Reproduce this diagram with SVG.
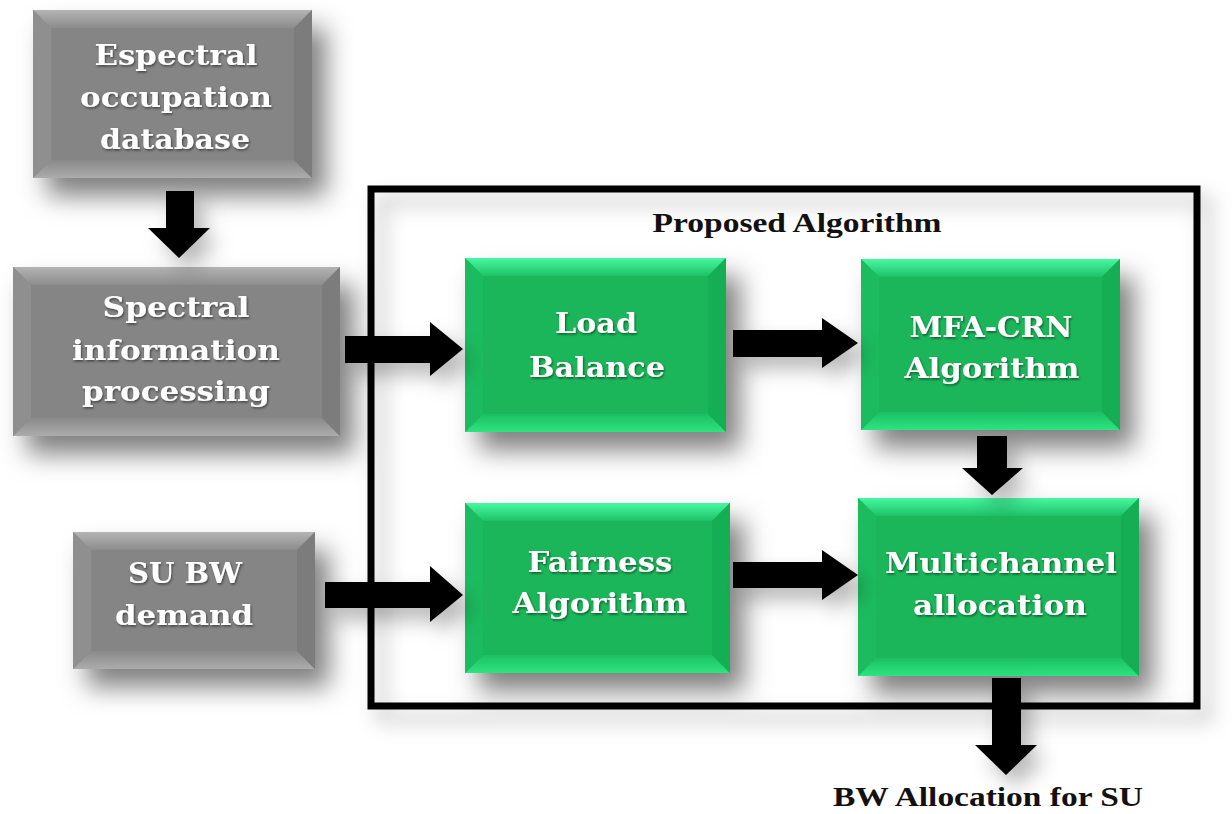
<svg xmlns="http://www.w3.org/2000/svg" width="1232" height="814" viewBox="0 0 1232 814">
<defs>
<filter id="sh" x="-30%" y="-30%" width="170%" height="170%">
<feDropShadow dx="14" dy="18" stdDeviation="13" flood-color="#000" flood-opacity="0.5"/>
</filter>
<filter id="shs" x="-30%" y="-30%" width="170%" height="170%">
<feDropShadow dx="10" dy="12" stdDeviation="10" flood-color="#000" flood-opacity="0.28"/>
</filter>
<filter id="ts" x="-10%" y="-30%" width="120%" height="160%">
<feDropShadow dx="1" dy="1.5" stdDeviation="1" flood-color="#000" flood-opacity="0.5"/>
</filter>
<linearGradient id="gTop" x1="0" y1="0" x2="0" y2="1"><stop offset="0" stop-color="#b4b4b4"/><stop offset="1" stop-color="#8c8c8c"/></linearGradient>
<linearGradient id="gBot" x1="0" y1="0" x2="0" y2="1"><stop offset="0" stop-color="#8a8a8a"/><stop offset="1" stop-color="#acacac"/></linearGradient>
<linearGradient id="nTop" x1="0" y1="0" x2="0" y2="1"><stop offset="0" stop-color="#48f7a2"/><stop offset="1" stop-color="#1ec266"/></linearGradient>
<linearGradient id="nBot" x1="0" y1="0" x2="0" y2="1"><stop offset="0" stop-color="#1cc063"/><stop offset="1" stop-color="#2ee380"/></linearGradient>
<style>
.gface{fill:#858585}.gt{fill:url(#gTop)}.gb{fill:url(#gBot)}.gl{fill:#8f8f8f}.gr{fill:#7c7c7c}
.nface{fill:#1ab65a}.nt{fill:url(#nTop)}.nb{fill:url(#nBot)}.nl{fill:#1cbb5e}.nr{fill:#17ae55}
.wt{font-family:"DejaVu Serif","Liberation Serif",serif;font-weight:bold;font-size:27px;fill:#fff;text-anchor:middle}
.bt{font-family:"Liberation Serif","DejaVu Serif",serif;font-weight:bold;font-size:28px;fill:#111;text-anchor:middle}
.arr{fill:#000}
</style>
</defs>
<rect width="1232" height="814" fill="#fff"/>

<g id="frame" filter="url(#shs)">
<rect x="371" y="189" width="826" height="517" fill="none" stroke="#000" stroke-width="7"/>
</g>
<text class="bt" x="797" y="232" textLength="289" lengthAdjust="spacingAndGlyphs">Proposed Algorithm</text>

<g id="n-espectral" filter="url(#sh)">
<rect class="gface" x="33" y="10" width="279" height="168"/>
<polygon class="gt" points="33,10 312,10 294,28 51,28"/>
<polygon class="gb" points="33,178 312,178 294,160 51,160"/>
<polygon class="gl" points="33,10 51,28 51,160 33,178"/>
<polygon class="gr" points="312,10 294,28 294,160 312,178"/>
</g>
<g filter="url(#ts)">
<text class="wt" x="176" y="65" textLength="163" lengthAdjust="spacingAndGlyphs">Espectral</text>
<text class="wt" x="176" y="107" textLength="192" lengthAdjust="spacingAndGlyphs">occupation</text>
<text class="wt" x="175" y="149" textLength="150" lengthAdjust="spacingAndGlyphs">database</text>
</g>

<g id="n-spectral" filter="url(#sh)">
<rect class="gface" x="13" y="267" width="327" height="169"/>
<polygon class="gt" points="13,267 340,267 322,285 31,285"/>
<polygon class="gb" points="13,436 340,436 322,418 31,418"/>
<polygon class="gl" points="13,267 31,285 31,418 13,436"/>
<polygon class="gr" points="340,267 322,285 322,418 340,436"/>
</g>
<g filter="url(#ts)">
<text class="wt" x="176" y="317" textLength="147" lengthAdjust="spacingAndGlyphs">Spectral</text>
<text class="wt" x="176" y="360" textLength="208" lengthAdjust="spacingAndGlyphs">information</text>
<text class="wt" x="176" y="401" textLength="188" lengthAdjust="spacingAndGlyphs">processing</text>
</g>

<g id="n-subw" filter="url(#sh)">
<rect class="gface" x="73" y="532" width="242" height="137"/>
<polygon class="gt" points="73,532 315,532 297,550 91,550"/>
<polygon class="gb" points="73,669 315,669 297,651 91,651"/>
<polygon class="gl" points="73,532 91,550 91,651 73,669"/>
<polygon class="gr" points="315,532 297,550 297,651 315,669"/>
</g>
<g filter="url(#ts)">
<text class="wt" x="185" y="583" textLength="114" lengthAdjust="spacingAndGlyphs">SU BW</text>
<text class="wt" x="184" y="625" textLength="138" lengthAdjust="spacingAndGlyphs">demand</text>
</g>

<g id="n-load" filter="url(#sh)">
<rect class="nface" x="465" y="258" width="261" height="174"/>
<polygon class="nt" points="465,258 726,258 708,276 483,276"/>
<polygon class="nb" points="465,432 726,432 708,414 483,414"/>
<polygon class="nl" points="465,258 483,276 483,414 465,432"/>
<polygon class="nr" points="726,258 708,276 708,414 726,432"/>
</g>
<g filter="url(#ts)">
<text class="wt" x="596" y="333" textLength="82" lengthAdjust="spacingAndGlyphs">Load</text>
<text class="wt" x="597" y="377" textLength="136" lengthAdjust="spacingAndGlyphs">Balance</text>
</g>

<g id="n-mfa" filter="url(#sh)">
<rect class="nface" x="861" y="259" width="259" height="171"/>
<polygon class="nt" points="861,259 1120,259 1102,277 879,277"/>
<polygon class="nb" points="861,430 1120,430 1102,412 879,412"/>
<polygon class="nl" points="861,259 879,277 879,412 861,430"/>
<polygon class="nr" points="1120,259 1102,277 1102,412 1120,430"/>
</g>
<g filter="url(#ts)">
<text class="wt" x="991" y="337" textLength="163" lengthAdjust="spacingAndGlyphs">MFA-CRN</text>
<text class="wt" x="992" y="378" textLength="175" lengthAdjust="spacingAndGlyphs">Algorithm</text>
</g>

<g id="n-fair" filter="url(#sh)">
<rect class="nface" x="465" y="503" width="265" height="170"/>
<polygon class="nt" points="465,503 730,503 712,521 483,521"/>
<polygon class="nb" points="465,673 730,673 712,655 483,655"/>
<polygon class="nl" points="465,503 483,521 483,655 465,673"/>
<polygon class="nr" points="730,503 712,521 712,655 730,673"/>
</g>
<g filter="url(#ts)">
<text class="wt" x="600" y="572" textLength="145" lengthAdjust="spacingAndGlyphs">Fairness</text>
<text class="wt" x="600" y="613" textLength="175" lengthAdjust="spacingAndGlyphs">Algorithm</text>
</g>

<g id="n-multi" filter="url(#sh)">
<rect class="nface" x="858" y="498" width="281" height="178"/>
<polygon class="nt" points="858,498 1139,498 1121,516 876,516"/>
<polygon class="nb" points="858,676 1139,676 1121,658 876,658"/>
<polygon class="nl" points="858,498 876,516 876,658 858,676"/>
<polygon class="nr" points="1139,498 1121,516 1121,658 1139,676"/>
</g>
<g filter="url(#ts)">
<text class="wt" x="1001" y="573" textLength="232" lengthAdjust="spacingAndGlyphs">Multichannel</text>
<text class="wt" x="1000" y="615" textLength="174" lengthAdjust="spacingAndGlyphs">allocation</text>
</g>

<g id="connectors" filter="url(#shs)">
<polygon class="arr" points="166,191 194,191 194,228 210,228 179,258 148,228 166,228"/>
<polygon class="arr" points="345,336 430,336 430,322 463,349 430,376 430,363 345,363"/>
<polygon class="arr" points="733,330 822,330 822,318 858,343 822,368 822,357 733,357"/>
<polygon class="arr" points="977,436 1007,436 1007,468 1023,468 992,495 962,468 977,468"/>
<polygon class="arr" points="325,582 430,582 430,566 463,595 430,622 430,608 325,608"/>
<polygon class="arr" points="733,562 822,562 822,550 858,575 822,600 822,588 733,588"/>
<polygon class="arr" points="992,678 1021,678 1021,745 1037,745 1006,775 975,745 992,745"/>
</g>
<text class="bt" x="988" y="806" textLength="310" lengthAdjust="spacingAndGlyphs">BW Allocation for SU</text>
</svg>
